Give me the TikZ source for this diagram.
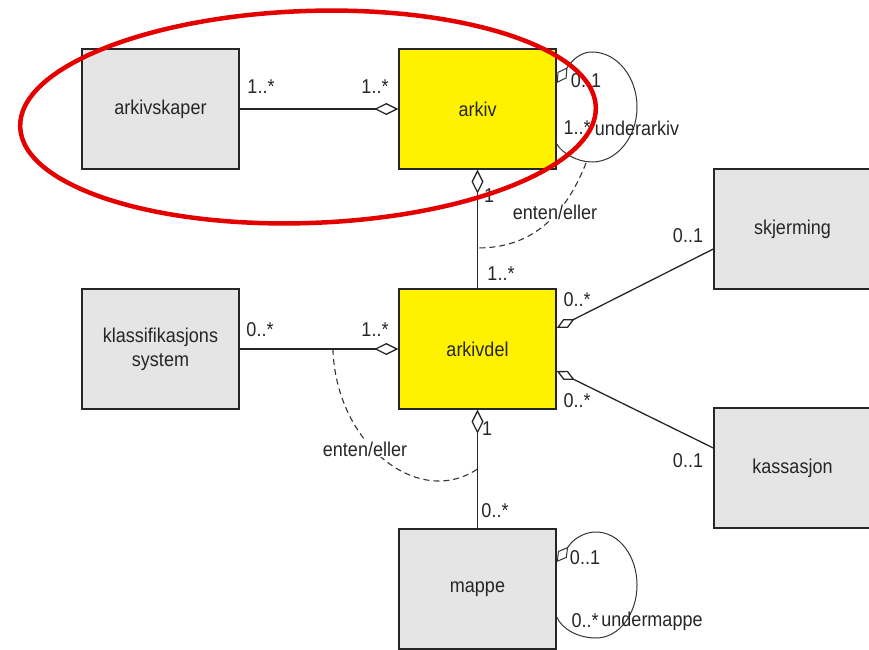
\documentclass[tikz,border=0pt]{standalone}
\usepackage{fontspec}
\setmainfont[FakeStretch=0.9]{Liberation Sans}
\usetikzlibrary{arrows.meta,calc}
\begin{document}
\begin{tikzpicture}[x=1pt,y=1pt,
  box/.style={draw=black!85, line width=1.4pt, minimum width=157pt, minimum height=120pt, inner sep=0pt, align=center, font=\fontsize{20}{24}\selectfont, text=black!85},
  graybox/.style={box, fill=gray!20},
  yellowbox/.style={box, fill=yellow},
  lbl/.style={font=\fontsize{20}{24}\selectfont, text=black!85, inner sep=1pt},
  wlbl/.style={lbl, fill=white},
  conn/.style={draw=black!85, line width=1.3pt},
  loopline/.style={draw=black!80, line width=1pt},
  dia/.style={{Diamond[open,length=24pt,width=12pt]}-},
  smalldia/.style={{Diamond[open,length=19pt,width=11pt]}-},
  eitheror/.style={draw=black!80, line width=1.1pt, dash pattern=on 6pt off 4pt},
]
\useasboundingbox (0,0) rectangle (869,649);

% boxes
\node[graybox]   (arkivskaper) at (160.5,540) {arkivskaper};
\node[yellowbox] (arkiv)       at (477.5,540) {arkiv};
\node[graybox]   (klass)       at (160.5,300) {klassifikasjons\\system};
\node[yellowbox] (arkivdel)    at (477.5,300) {arkivdel};
\node[graybox]   (skjerming)   at (792.5,420) {skjerming};
\node[graybox]   (kassasjon)   at (792.5,181) {kassasjon};
\node[graybox]   (mappe)       at (477.5,60)  {mappe};

% connectors
\draw[conn,dia] (arkiv.west) -- (arkivskaper.east);
\draw[conn,dia] (arkivdel.west) -- (klass.east);
\draw[conn,dia] (arkiv.south) -- (arkivdel.north);
\draw[conn,dia] (arkivdel.south) -- (mappe.north);
\draw[conn,{Diamond[open,length=20pt,width=10pt]}-] ($(arkivdel.east)+(0,21)$) -- ($(skjerming.west)+(0,-20)$);
\draw[conn,{Diamond[open,length=20pt,width=10pt]}-] ($(arkivdel.east)+(0,-22)$) -- ($(kassasjon.west)+(0,20)$);

% self loops
\draw[loopline,smalldia] ($(arkiv.east)+(0,26)$) -- (569,584)
  .. controls (576,593) and (584,597) .. (592,597)
  .. controls (617,597) and (637,572) .. (637,542)
  .. controls (637,512) and (617,487) .. (592,487)
  .. controls (577,487) and (562,496) .. ($(arkiv.east)+(0,-35)$);
\draw[loopline,smalldia] ($(mappe.east)+(0,27)$) -- (571,106)
  .. controls (578,113) and (587,117) .. (596,117)
  .. controls (619,117) and (637,93) .. (637,64)
  .. controls (637,35) and (619,11) .. (596,11)
  .. controls (578,11) and (562,20) .. ($(mappe.east)+(0,-28)$);

% either/or constraints
\coordinate (upperstart) at (586,486);
\coordinate (upperend) at ($(arkiv.south)!0.66!(arkivdel.north)$);
\draw[eitheror] (upperstart) .. controls (560,420) and (520,401) .. (upperend);
\coordinate (lowerstart) at ($(klass.east)!0.5875!(arkivdel.west)$);
\coordinate (lowerend) at ($(arkivdel.south)!0.5!(mappe.north)$);
\draw[eitheror] (lowerstart) .. controls (336,205) and (418,140) .. (lowerend);
\node[wlbl] (ee1) at (555,437) {enten/eller};
\node[wlbl] (ee2) at (365,200) {enten/eller};

% multiplicities
\node[lbl] (m1) at (261,562) {1..*};
\node[lbl] (m2) at (375,562) {1..*};
\node[lbl] (m3) at (586,568) {0..1};
\node[lbl] (m4) at (577,521) {1..*};
\node[lbl] (m5) at (637,521) {underarkiv};
\node[lbl] (m6) at (489,453) {1};
\node[lbl] (m7) at (501,375) {1..*};
\node[lbl] (m8) at (260,319) {0..*};
\node[lbl] (m9) at (375,319) {1..*};
\node[lbl] (m10) at (577,349) {0..*};
\node[lbl] (m11) at (577,248) {0..*};
\node[lbl] (m12) at (688,413) {0..1};
\node[lbl] (m13) at (688,188) {0..1};
\node[lbl] (m14) at (487,220) {1};
\node[lbl] (m15) at (495,138) {0..*};
\node[lbl] (m16) at (585,91) {0..1};
\node[lbl] (m17) at (585,28) {0..*};
\node[lbl] (m18) at (652,28) {undermappe};

% red highlight ellipse
\draw[red!90!black, line width=4.5pt, rotate around={2:(308,532)}] (308,532) ellipse [x radius=288, y radius=106];
\end{tikzpicture}
\end{document}
